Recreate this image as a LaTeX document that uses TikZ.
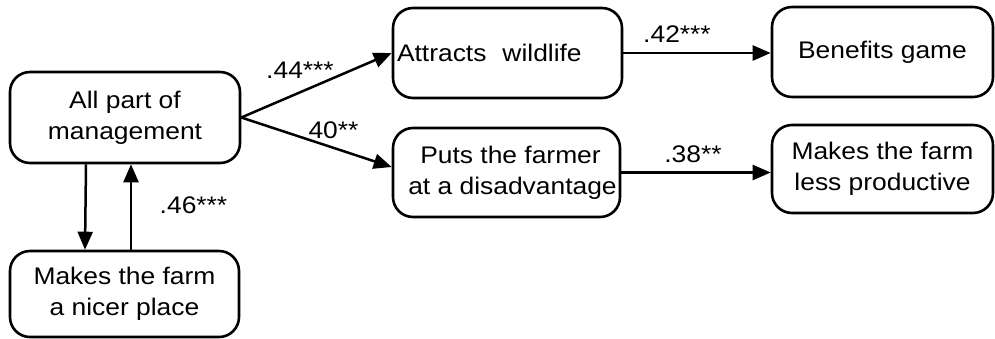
\documentclass[tikz,border=0pt]{standalone}
\usepackage{fontspec}
\setmainfont{Liberation Sans}[FakeStretch=1.1]
\usetikzlibrary{arrows.meta,calc}
\begin{document}
\begin{tikzpicture}[x=1pt,y=-1pt,
  every node/.style={font=\fontsize{24}{31}\selectfont},
  box/.style={draw, line width=2.6pt, rounded corners=20pt, align=center, inner sep=0pt},
  link/.style={line width=2.5pt, -{Triangle[length=18pt,width=15pt]}},
  weight/.style={anchor=base, inner sep=0pt}]
  \useasboundingbox (0,0) rectangle (995,338);

  % path boxes
  \node[box, minimum width=230pt, minimum height=91pt] (A) at (125,117.5)
    {All part of\\management};
  \node[box, minimum width=229pt, minimum height=86pt] (N) at (124.5,294)
    {Makes the farm\\a nicer place};
  \node[box, minimum width=229pt, minimum height=90pt, inner xsep=4pt,
        text width=221pt, align=left] (W) at (507.5,53)
    {Attracts\ \ wildlife};
  \node[box, minimum width=221pt, minimum height=90pt] (G) at (882.5,52)
    {Benefits game};
  \node[box, minimum width=227pt, minimum height=89pt] (P) at (506.5,172.5)
    {\hspace*{8pt}Puts the farmer\\\hspace*{12pt}at a disadvantage};
  \node[box, minimum width=221pt, minimum height=88pt] (L) at (882.5,169)
    {Makes the farm\\less productive};

  % connectors
  \draw[link] (A.east) -- (W.west);
  \draw[link] (A.east) -- ($(P.west)+(0,-5.5)$);
  \draw[link] ([xshift=-39pt]A.south) -- ([xshift=-39.5pt]N.north);
  \draw[link] ([xshift=6.5pt]N.north) -- ([xshift=6pt]A.south);
  \draw[link] (W.east) -- (W.east -| G.west);
  \draw[link] (P.east) -- (P.east -| L.west);

  % path coefficients
  \node[weight] (w1) at (300,78) {.44***};
  \node[weight] (w2) at (333.5,138) {40**};
  \node[weight] (w3) at (193.5,213) {.46***};
  \node[weight] (w4) at (677,42) {.42***};
  \node[weight] (w5) at (693,162) {.38**};
\end{tikzpicture}
\end{document}
